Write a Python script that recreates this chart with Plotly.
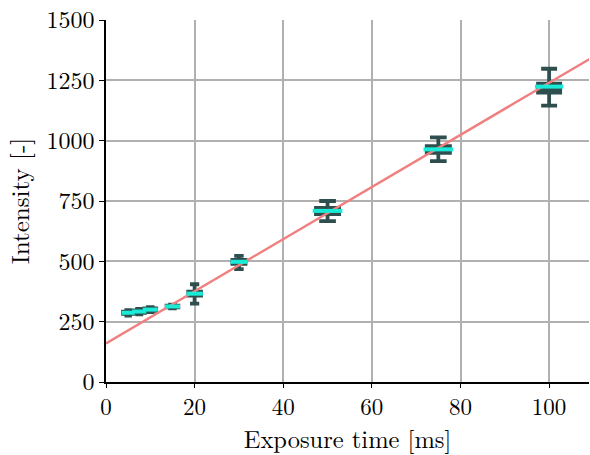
import plotly.graph_objects as go

exposure = [5, 7.5, 10, 15, 20, 30, 50, 75, 100]
lower = [275, 280, 290, 305, 325, 468, 667, 915, 1145]
q1 = [282, 287, 295, 309, 358, 490, 696, 950, 1199]
median = [287, 292, 300, 313, 366, 498, 709, 964, 1224]
q3 = [292, 297, 305, 316, 374, 506, 721, 977, 1236]
upper = [298, 303, 310, 320, 405, 523, 750, 1014, 1298]
box_width = [3.0, 3.2, 3.4, 3.4, 3.7, 3.8, 6.7, 6.7, 6.4]

fit_x = [0, 110]
fit_y = [160, 1348]

xticks = [0, 20, 40, 60, 80, 100]
yticks = [0, 250, 500, 750, 1000, 1250, 1500]

dark = "#2F4F4F"
cyan = "#18ECD8"
red = "#F08080"

fig = go.Figure()
fig.add_trace(go.Scatter(x=fit_x, y=fit_y, mode="lines",
                         line=dict(color=red, width=2.4), showlegend=False))
px_per_unit = 483 / 109.0
for i, xv in enumerate(exposure):
    fig.add_trace(go.Box(x=[xv], q1=[q1[i]], median=[median[i]], q3=[q3[i]],
                         lowerfence=[lower[i]], upperfence=[upper[i]],
                         width=box_width[i] * 0.78, whiskerwidth=0.72,
                         line=dict(color=dark, width=3.8), fillcolor=dark,
                         boxpoints=False, showlegend=False, hoverinfo="skip"))
    fig.add_trace(go.Scatter(x=[xv], y=[median[i]], mode="markers",
                             marker=dict(symbol="line-ew", size=box_width[i] * px_per_unit / 1.4,
                                         line=dict(color=cyan, width=4)),
                             showlegend=False, hoverinfo="skip"))

family = "Latin Modern Roman, CMU Serif, DejaVu Serif"
fig.update_layout(
    width=590, height=455,
    margin=dict(l=106, r=1, t=18, b=73),
    plot_bgcolor="white", paper_bgcolor="white",
    font=dict(family=family, size=24, color="black"),
    xaxis=dict(range=[0, 109], tickvals=xticks, showgrid=True, gridcolor="#b0b0b0",
               gridwidth=1.6, zeroline=False, showline=True, linecolor="black",
               linewidth=1.5, ticks="outside", ticklen=4, tickcolor="black",
               ticklabeloverflow="allow", tickfont=dict(family=family, size=23),
               title=dict(text="Exposure time [ms]", standoff=0,
                          font=dict(family=family, size=24.5))),
    yaxis=dict(range=[0, 1500], tickvals=yticks, showgrid=True, gridcolor="#b0b0b0",
               gridwidth=1.6, zeroline=False, showline=True, linecolor="black",
               linewidth=1.5, ticks="outside", ticklen=5, tickcolor="black",
               ticklabeloverflow="allow",
               title=dict(text="Intensity [-]", standoff=10,
                          font=dict(family=family, size=25))),
)
fig.write_html("out.html")
